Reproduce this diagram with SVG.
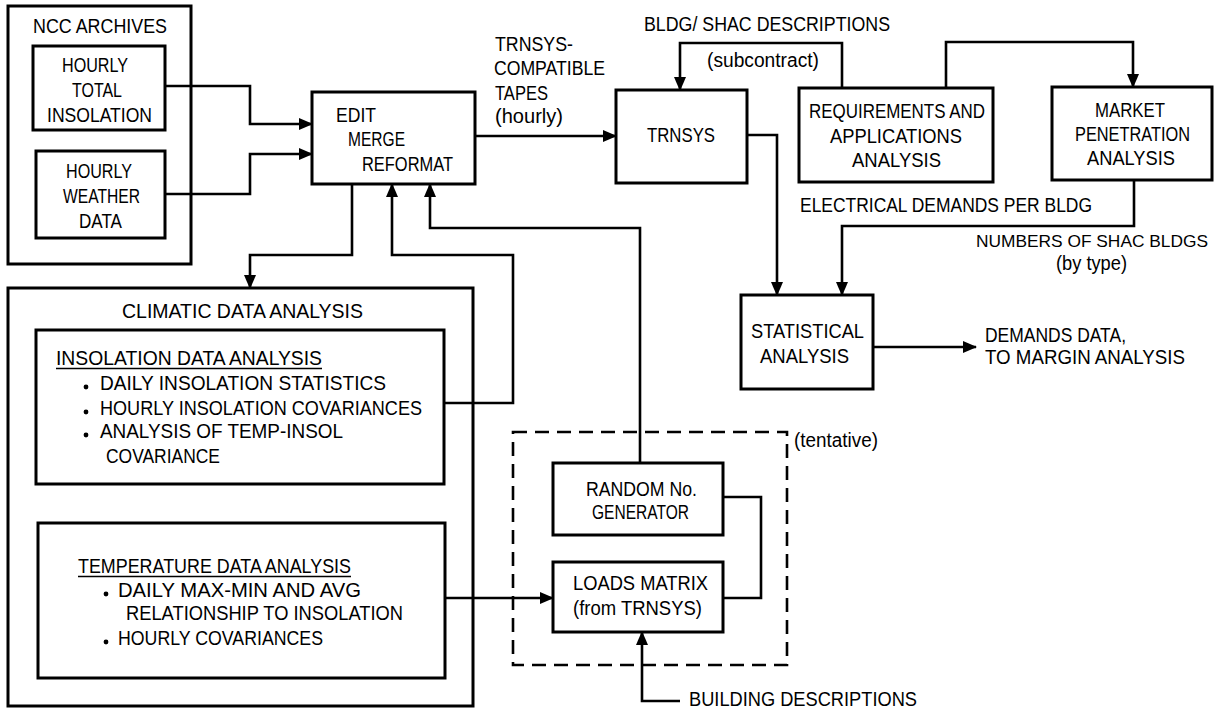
<svg xmlns="http://www.w3.org/2000/svg" width="1221" height="713" viewBox="0 0 1221 713">
<defs>
<marker id="ah" markerUnits="userSpaceOnUse" markerWidth="14" markerHeight="12" viewBox="0 0 14 12" refX="13" refY="6" orient="auto">
<path d="M0,0 L14,6 L0,12 Z" fill="#000"/>
</marker>
<style>
rect.box{fill:none;stroke:#000;stroke-width:3}
rect.dash{fill:none;stroke:#000;stroke-width:2.6;stroke-dasharray:14 8}
#connectors path{fill:none;stroke:#000;stroke-width:2.6}
path.arr{marker-end:url(#ah)}
text{font-family:"Liberation Sans",Arial,sans-serif;font-size:19.5px;fill:#000}
text.sm{font-size:17px}
line.ul{stroke:#000;stroke-width:1.5}
</style>
</defs>
<rect width="1221" height="713" fill="#fff"/>

<g id="ncc-archives">
<rect class="box" x="8" y="6" width="183" height="258"/>
<text x="33" y="33" textLength="134" lengthAdjust="spacingAndGlyphs">NCC ARCHIVES</text>
</g>
<g id="hourly-total-insolation">
<rect class="box" x="33" y="46" width="132" height="84"/>
<text x="62" y="72" textLength="66" lengthAdjust="spacingAndGlyphs">HOURLY</text>
<text x="72" y="97" textLength="50" lengthAdjust="spacingAndGlyphs">TOTAL</text>
<text x="47" y="122" textLength="105" lengthAdjust="spacingAndGlyphs">INSOLATION</text>
</g>
<g id="hourly-weather-data">
<rect class="box" x="36" y="151" width="129" height="87"/>
<text x="66" y="178" textLength="66" lengthAdjust="spacingAndGlyphs">HOURLY</text>
<text x="63" y="203" textLength="77" lengthAdjust="spacingAndGlyphs">WEATHER</text>
<text x="79" y="228" textLength="43" lengthAdjust="spacingAndGlyphs">DATA</text>
</g>
<g id="edit-merge-reformat">
<rect class="box" x="312" y="92" width="163" height="92"/>
<text x="336" y="122" textLength="40" lengthAdjust="spacingAndGlyphs">EDIT</text>
<text x="348" y="146" textLength="57" lengthAdjust="spacingAndGlyphs">MERGE</text>
<text x="362" y="171" textLength="91" lengthAdjust="spacingAndGlyphs">REFORMAT</text>
</g>
<g id="tapes-label">
<text x="495" y="51" textLength="78" lengthAdjust="spacingAndGlyphs">TRNSYS-</text>
<text x="494" y="75" textLength="111" lengthAdjust="spacingAndGlyphs">COMPATIBLE</text>
<text x="495" y="100" textLength="53" lengthAdjust="spacingAndGlyphs">TAPES</text>
<text x="495" y="123" textLength="68" lengthAdjust="spacingAndGlyphs">(hourly)</text>
</g>
<g id="trnsys">
<rect class="box" x="616" y="90" width="131" height="93"/>
<text x="647" y="142" textLength="68" lengthAdjust="spacingAndGlyphs">TRNSYS</text>
</g>
<g id="bldg-shac-label">
<text x="644" y="31" textLength="246" lengthAdjust="spacingAndGlyphs">BLDG/ SHAC DESCRIPTIONS</text>
<text x="707" y="67" textLength="112" lengthAdjust="spacingAndGlyphs">(subcontract)</text>
</g>
<g id="requirements">
<rect class="box" x="799" y="88" width="194" height="94"/>
<text x="809" y="118" textLength="176" lengthAdjust="spacingAndGlyphs">REQUIREMENTS AND</text>
<text x="830" y="143" textLength="132" lengthAdjust="spacingAndGlyphs">APPLICATIONS</text>
<text x="852" y="167" textLength="89" lengthAdjust="spacingAndGlyphs">ANALYSIS</text>
</g>
<g id="market-penetration">
<rect class="box" x="1052" y="87" width="160" height="93"/>
<text x="1095" y="117" textLength="70" lengthAdjust="spacingAndGlyphs">MARKET</text>
<text x="1075" y="141" textLength="115" lengthAdjust="spacingAndGlyphs">PENETRATION</text>
<text x="1087" y="165" textLength="88" lengthAdjust="spacingAndGlyphs">ANALYSIS</text>
</g>
<g id="demand-labels">
<text x="800" y="212" textLength="292" lengthAdjust="spacingAndGlyphs">ELECTRICAL DEMANDS PER BLDG</text>
<text class="sm" x="976" y="247" textLength="232" lengthAdjust="spacingAndGlyphs">NUMBERS OF SHAC BLDGS</text>
<text x="1056" y="270" textLength="71" lengthAdjust="spacingAndGlyphs">(by type)</text>
</g>
<g id="statistical-analysis">
<rect class="box" x="741" y="295" width="132" height="94"/>
<text x="751" y="338" textLength="113" lengthAdjust="spacingAndGlyphs">STATISTICAL</text>
<text x="760" y="363" textLength="89" lengthAdjust="spacingAndGlyphs">ANALYSIS</text>
</g>
<g id="demands-output">
<text x="985" y="342" textLength="141" lengthAdjust="spacingAndGlyphs">DEMANDS DATA,</text>
<text x="985" y="364" textLength="200" lengthAdjust="spacingAndGlyphs">TO MARGIN ANALYSIS</text>
</g>
<g id="climatic-data-analysis">
<rect class="box" x="8" y="288" width="465" height="418"/>
<text x="122" y="318" textLength="241" lengthAdjust="spacingAndGlyphs">CLIMATIC DATA ANALYSIS</text>
</g>
<g id="insolation-data-analysis">
<rect class="box" x="36" y="330" width="408" height="154"/>
<text x="56" y="365" textLength="266" lengthAdjust="spacingAndGlyphs">INSOLATION DATA ANALYSIS</text>
<line class="ul" x1="56" y1="368.5" x2="322" y2="368.5"/>
<circle cx="86" cy="387" r="2.4"/>
<text x="100" y="390" textLength="286" lengthAdjust="spacingAndGlyphs">DAILY INSOLATION STATISTICS</text>
<circle cx="86" cy="412" r="2.4"/>
<text x="100" y="415" textLength="322" lengthAdjust="spacingAndGlyphs">HOURLY INSOLATION COVARIANCES</text>
<circle cx="86" cy="435" r="2.4"/>
<text x="100" y="438" textLength="243" lengthAdjust="spacingAndGlyphs">ANALYSIS OF TEMP-INSOL</text>
<text x="106" y="463" textLength="114" lengthAdjust="spacingAndGlyphs">COVARIANCE</text>
</g>
<g id="temperature-data-analysis">
<rect class="box" x="38" y="523" width="407" height="155"/>
<text x="78" y="573" textLength="273" lengthAdjust="spacingAndGlyphs">TEMPERATURE DATA ANALYSIS</text>
<line class="ul" x1="78" y1="576.5" x2="351" y2="576.5"/>
<circle cx="106" cy="594" r="2.4"/>
<text x="118" y="597" textLength="243" lengthAdjust="spacingAndGlyphs">DAILY MAX-MIN AND AVG</text>
<text x="126" y="620" textLength="277" lengthAdjust="spacingAndGlyphs">RELATIONSHIP TO INSOLATION</text>
<circle cx="106" cy="642" r="2.4"/>
<text x="118" y="645" textLength="205" lengthAdjust="spacingAndGlyphs">HOURLY COVARIANCES</text>
</g>
<g id="tentative-group">
<rect class="dash" x="513" y="432" width="274" height="233"/>
<text x="794" y="447" textLength="84" lengthAdjust="spacingAndGlyphs">(tentative)</text>
</g>
<g id="random-number-generator">
<rect class="box" x="553" y="463" width="170" height="72"/>
<text x="586" y="496" textLength="111" lengthAdjust="spacingAndGlyphs">RANDOM No.</text>
<text x="592" y="519" textLength="97" lengthAdjust="spacingAndGlyphs">GENERATOR</text>
</g>
<g id="loads-matrix">
<rect class="box" x="553" y="562" width="170" height="70"/>
<text x="573" y="590" textLength="135" lengthAdjust="spacingAndGlyphs">LOADS MATRIX</text>
<text x="573" y="615" textLength="129" lengthAdjust="spacingAndGlyphs">(from TRNSYS)</text>
</g>
<g id="building-descriptions">
<text x="689" y="706" textLength="228" lengthAdjust="spacingAndGlyphs">BUILDING DESCRIPTIONS</text>
</g>

<g id="connectors">
<path class="arr" d="M165,86 H250 V124 H312"/>
<path class="arr" d="M165,194 H250 V154 H312"/>
<path class="arr" d="M352,184 V255 H250 V288"/>
<path class="arr" d="M444,403 H513 V255 H392 V184"/>
<path class="arr" d="M640,463 V228 H430 V184"/>
<path class="arr" d="M475,136 H616"/>
<path class="arr" d="M842,88 V43 H680 V90"/>
<path class="arr" d="M946,88 V42 H1133 V87"/>
<path class="arr" d="M747,135 H777 V295"/>
<path class="arr" d="M1134,180 V226 H842 V295"/>
<path class="arr" d="M873,347 H976"/>
<path class="arr" d="M445,598 H553"/>
<path d="M723,497 H761 V598 H723"/>
<path class="arr" d="M680,701 H642 V632"/>
</g>
</svg>
